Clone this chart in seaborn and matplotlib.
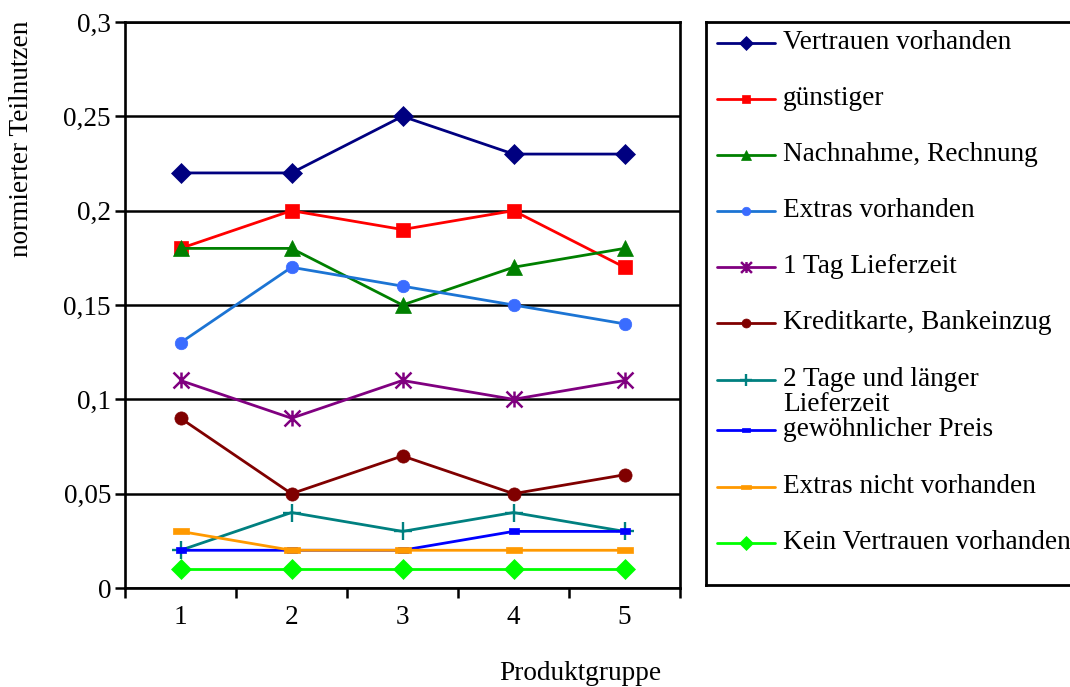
import numpy as np
import pandas as pd
import seaborn as sns
import matplotlib.pyplot as plt
from matplotlib.path import Path

sns.set_theme(style="white")
plt.rcParams['font.family'] = ['Liberation Serif', 'DejaVu Serif']

# ---- data -------------------------------------------------------------
produktgruppen = [1, 2, 3, 4, 5]

vertrauen_vorhanden = [0.22, 0.22, 0.25, 0.23, 0.23]
guenstiger = [0.18, 0.20, 0.19, 0.20, 0.17]
nachnahme_rechnung = [0.18, 0.18, 0.15, 0.17, 0.18]
extras_vorhanden = [0.13, 0.17, 0.16, 0.15, 0.14]
ein_tag_lieferzeit = [0.11, 0.09, 0.11, 0.10, 0.11]
kreditkarte_bankeinzug = [0.09, 0.05, 0.07, 0.05, 0.06]
zwei_tage_lieferzeit = [0.02, 0.04, 0.03, 0.04, 0.03]
gewoehnlicher_preis = [0.02, 0.02, 0.02, 0.03, 0.03]
extras_nicht_vorhanden = [0.03, 0.02, 0.02, 0.02, 0.02]
kein_vertrauen = [0.01, 0.01, 0.01, 0.01, 0.01]

legend_labels = [
    "Vertrauen vorhanden",
    "günstiger",
    "Nachnahme, Rechnung",
    "Extras vorhanden",
    "1 Tag Lieferzeit",
    "Kreditkarte, Bankeinzug",
    "2 Tage und länger\nLieferzeit",
    "gewöhnlicher Preis",
    "Extras nicht vorhanden",
    "Kein Vertrauen vorhanden",
]
y_tick_values = [0, 0.05, 0.1, 0.15, 0.2, 0.25, 0.3]
y_tick_labels = ["0", "0,05", "0,1", "0,15", "0,2", "0,25", "0,3"]

FS = 19.6

# ---- marker shapes ----------------------------------------------------
asterisk = Path(
    [(0, -1), (0, 1), (-1, -1), (1, 1), (-1, 1), (1, -1)],
    [Path.MOVETO, Path.LINETO, Path.MOVETO, Path.LINETO, Path.MOVETO, Path.LINETO],
)
dash_wide = [(-1, -0.33), (1, -0.33), (1, 0.33), (-1, 0.33), (-1, -0.33)]
dash_small = [(-1, -0.5), (1, -0.5), (1, 0.5), (-1, 0.5), (-1, -0.5)]

# (values, line colour, marker, marker colour, marker size, marker edge width)
series = [
    (vertrauen_vorhanden, "#000080", "D", "#000080", 10, 0.5),
    (guenstiger, "#ff0000", "s", "#ff0000", 9.5, 0.5),
    (nachnahme_rechnung, "#008000", "^", "#008000", 11, 0.5),
    (extras_vorhanden, "#1c74d4", "o", "#3a6cff", 9, 0.5),
    (ein_tag_lieferzeit, "#800080", asterisk, "#800080", 11.5, 1.8),
    (kreditkarte_bankeinzug, "#800000", "o", "#800000", 9.5, 0.5),
    (zwei_tage_lieferzeit, "#008080", "+", "#008080", 13, 1.7),
    (gewoehnlicher_preis, "#0000ff", dash_small, "#0000ff", 7.5, 0.5),
    (extras_nicht_vorhanden, "#ff9900", dash_wide, "#ff9900", 11.5, 0.5),
    (kein_vertrauen, "#00ff00", "D", "#00ff00", 10, 0.5),
]

W, H = 1070, 687
fig = plt.figure(figsize=(W / 100, H / 100), dpi=100)
fig.patch.set_facecolor("white")

# ---- main plot --------------------------------------------------------
ax = fig.add_axes([125 / W, 1 - 588 / H, 555 / W, 566 / H])
ax.set_facecolor("white")

for vals, lc, mk, mc, ms, mew in series:
    sns.lineplot(
        x=produktgruppen, y=vals, ax=ax, color=lc, lw=2.0,
        marker=mk, markersize=ms, markerfacecolor=mc, markeredgecolor=mc,
        markeredgewidth=mew, legend=False, errorbar=None,
    )

ax.set_xlim(0.5, 5.5)
ax.set_ylim(0, 0.3)
ax.set_yticks(y_tick_values)
ax.set_yticklabels(y_tick_labels)
ax.set_xticks(produktgruppen)
ax.set_xticklabels([str(p) for p in produktgruppen])
ax.set_xticks(np.arange(0.5, 5.6, 1.0), minor=True)
ax.yaxis.grid(True, color="black", lw=1.8)
ax.xaxis.grid(False)
ax.set_axisbelow(True)
ax.set_xlabel("")
ax.set_ylabel("")

for side in ["left", "right", "top", "bottom"]:
    ax.spines[side].set_visible(True)
    ax.spines[side].set_color("black")
    ax.spines[side].set_linewidth(1.9)

ax.tick_params(axis="y", which="major", direction="out", length=7, width=1.8,
               color="black", labelsize=FS, labelcolor="black", pad=3, left=True)
ax.tick_params(axis="x", which="major", length=0, labelsize=FS,
               labelcolor="black", pad=12)
ax.tick_params(axis="x", which="minor", direction="out", length=7, width=1.8,
               color="black", bottom=True)

fig.text(22 / W, 1 - 139 / H, "normierter Teilnutzen", rotation=90,
         ha="center", va="center", fontsize=FS, color="black")
fig.text(580 / W, 1 - 674 / H, "Produktgruppe", ha="center", va="center",
         fontsize=FS, color="black")

# ---- legend box -------------------------------------------------------
lax = fig.add_axes([706 / W, 1 - 585 / H, (1078 - 706) / W, (585 - 22) / H])
lax.set_xlim(706, 1078)
lax.set_ylim(585, 22)
lax.set_xticks([])
lax.set_yticks([])
lax.set_facecolor("white")
for side in lax.spines.values():
    side.set_color("black")
    side.set_linewidth(2)

entry_y = [43, 99, 155, 211, 267, 323, 380, 430, 487, 543]
for (vals, lc, mk, mc, ms, mew), label, yy in zip(series, legend_labels, entry_y):
    lax.plot([717, 775], [yy, yy], color=lc, lw=2.0)
    lax.plot([746], [yy], marker=mk, markersize=ms * 0.68, color=mc,
             markeredgecolor=mc, markeredgewidth=mew, linestyle="none")
    if "\n" in label:
        lines = label.split("\n")
        lax.text(783, yy, lines[0], ha="left", va="center", fontsize=FS,
                 color="black")
        lax.text(783, yy + 25, lines[1], ha="left", va="center", fontsize=FS,
                 color="black")
    else:
        lax.text(783, yy, label, ha="left", va="center", fontsize=FS,
                 color="black")

fig.savefig("out.png", dpi=100, facecolor="white")
